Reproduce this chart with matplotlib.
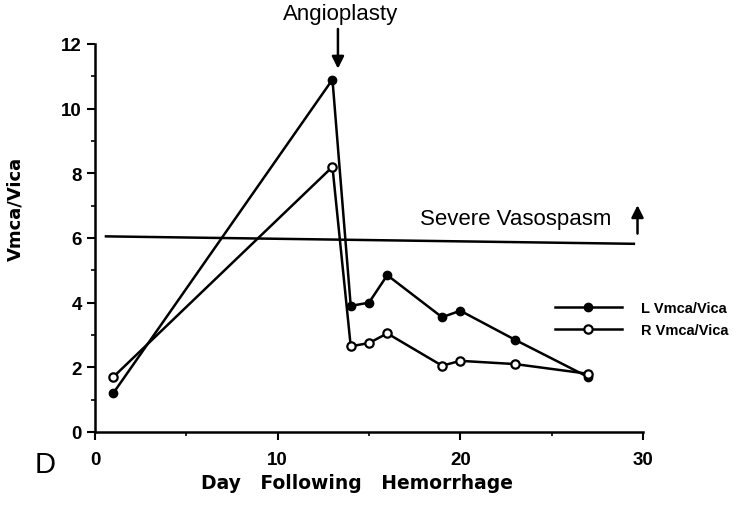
import matplotlib
matplotlib.use("Agg")
import matplotlib.pyplot as plt

plt.rcParams['font.family'] = ['Liberation Sans', 'DejaVu Sans']

# day following hemorrhage
days = [1, 13, 14, 15, 16, 19, 20, 23, 27]
# left and right Vmca/Vica ratios
l_ratio = [1.2, 10.9, 3.9, 4.0, 4.85, 3.55, 3.75, 2.85, 1.7]
r_ratio = [1.7, 8.2, 2.65, 2.75, 3.05, 2.05, 2.2, 2.1, 1.8]
# severe vasospasm threshold line (slightly slanted as drawn)
thresh_x = [0.6, 29.5]
thresh_y = [6.05, 5.82]

fig = plt.figure(figsize=(7.33, 5.06), dpi=100)
ax = fig.add_axes([0.1296, 0.1443, 0.7476, 0.7668])

ax.plot(days, l_ratio, color='black', lw=1.8, marker='o', ms=6,
        mfc='black', mec='black', label='L Vmca/Vica', clip_on=False)
ax.plot(days, r_ratio, color='black', lw=1.8, marker='o', ms=6,
        mfc='white', mec='black', mew=1.6, label='R Vmca/Vica', clip_on=False)
ax.plot(thresh_x, thresh_y, color='black', lw=1.8, clip_on=False)

ax.set_xlim(0, 30)
ax.set_ylim(0, 12)
ax.set_xticks([0, 10, 20, 30])
ax.set_xticks([5, 15, 25], minor=True)
ax.set_yticks(range(0, 13, 2))
ax.set_yticks(range(1, 12, 2), minor=True)
for s in ['top', 'right']:
    ax.spines[s].set_visible(False)
for s in ['left', 'bottom']:
    ax.spines[s].set_linewidth(1.8)
ax.tick_params(which='major', length=6, width=1.5, labelsize=13.5)
ax.tick_params(which='minor', length=3, width=1.2)
ax.tick_params(axis='x', pad=8)
for lab in ax.get_xticklabels() + ax.get_yticklabels():
    lab.set_fontweight('bold')

ax.set_xlabel("Day   Following   Hemorrhage", fontsize=13.5, fontweight='bold',
              family='DejaVu Sans')
ax.xaxis.set_label_coords(0.478, -0.105)
ax.set_ylabel("Vmca/Vica", fontsize=13, fontweight='bold', family='DejaVu Sans')
ax.yaxis.set_label_coords(-0.128, 0.577)

# annotations
ax.annotate("", xy=(13.3, 11.15), xytext=(13.3, 12.55),
            arrowprops=dict(arrowstyle='-|>', color='black', lw=1.8, mutation_scale=18),
            annotation_clip=False)
ax.text(13.45, 12.94, "Angioplasty", ha='center', va='center', fontsize=16)
ax.text(23.05, 6.6, "Severe Vasospasm", ha='center', va='center', fontsize=16)
ax.annotate("", xy=(29.7, 7.1), xytext=(29.7, 6.05),
            arrowprops=dict(arrowstyle='-|>', color='black', lw=1.8, mutation_scale=18),
            annotation_clip=False)
fig.text(0.062, 0.082, "D", fontsize=21, ha='center', va='center')

leg = ax.legend(loc='center left', bbox_to_anchor=(0.815, 0.29), frameon=False,
                prop=dict(size=10.5, weight='bold'), handlelength=4.6,
                handletextpad=1.3, labelspacing=0.55)

fig.savefig("out.png", dpi=100)
